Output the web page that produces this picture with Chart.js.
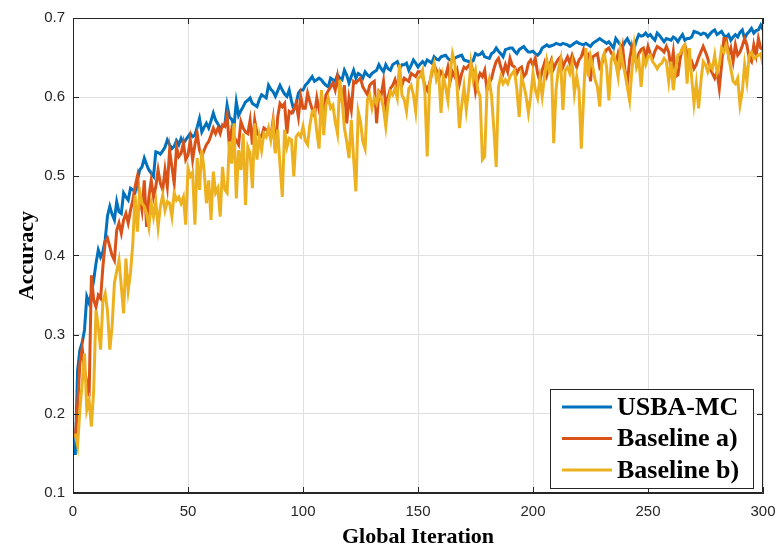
<!DOCTYPE html>
<html>
<head>
<meta charset="utf-8">
<script src="https://cdn.jsdelivr.net/npm/chart.js@4.4.0/dist/chart.umd.min.js"></script>
<style>
  html, body { margin: 0; padding: 0; background: #ffffff; }
  #c { display: block; }
</style>
</head>
<body>
<canvas id="c" width="776" height="547"></canvas>
<script>
// ---- data ----
const seriesNames = ["USBA-MC", "Baseline a)", "Baseline b)"];
const xTickValues = [0, 50, 100, 150, 200, 250, 300];
const yTickValues = [0.1, 0.2, 0.3, 0.4, 0.5, 0.6, 0.7];
const iterations = Array.from({ length: 300 }, (_, i) => i + 1);

const usbaMC = [
  .148,.255,.281,.290,.306,.348,.340,.352,.369,.390,
  .407,.398,.405,.420,.450,.462,.452,.445,.468,.455,
  .453,.479,.474,.470,.485,.483,.480,.495,.508,.512,
  .523,.515,.508,.504,.500,.531,.530,.528,.532,.537,
  .546,.540,.535,.538,.545,.540,.548,.542,.546,.550,
  .554,.550,.552,.562,.573,.556,.562,.567,.561,.570,
  .580,.571,.566,.561,.563,.565,.590,.575,.572,.563,
  .594,.577,.583,.588,.594,.596,.599,.592,.590,.588,
  .597,.603,.601,.599,.615,.610,.607,.601,.608,.615,
  .609,.604,.601,.609,.595,.584,.592,.605,.609,.609,
  .615,.618,.622,.626,.620,.622,.624,.622,.618,.615,
  .613,.624,.622,.620,.628,.624,.622,.634,.628,.618,
  .626,.634,.624,.630,.628,.624,.632,.628,.626,.630,
  .632,.634,.641,.636,.632,.641,.636,.634,.641,.643,
  .645,.636,.641,.641,.643,.634,.640,.647,.643,.638,
  .642,.645,.641,.647,.645,.643,.651,.648,.647,.651,
  .652,.653,.649,.647,.645,.649,.651,.652,.653,.647,
  .646,.645,.645,.646,.655,.653,.654,.657,.651,.650,
  .649,.655,.657,.662,.658,.655,.651,.660,.661,.662,
  .662,.658,.655,.660,.662,.664,.660,.657,.657,.658,
  .655,.653,.656,.662,.664,.666,.664,.665,.666,.668,
  .667,.666,.668,.667,.666,.664,.666,.668,.670,.668,
  .667,.666,.668,.666,.664,.668,.670,.672,.674,.672,
  .670,.668,.670,.666,.662,.674,.670,.666,.664,.670,
  .674,.668,.664,.662,.672,.679,.677,.678,.681,.677,
  .679,.675,.672,.681,.678,.674,.670,.674,.673,.672,
  .676,.674,.670,.675,.679,.672,.674,.674,.676,.683,
  .682,.681,.679,.681,.680,.676,.680,.683,.685,.679,
  .681,.683,.678,.676,.679,.672,.676,.679,.676,.682,
  .685,.674,.680,.683,.687,.681,.684,.685,.691,.685
];

const baselineA = [
  .170,.210,.264,.283,.255,.240,.222,.375,.344,.335,
  .350,.346,.386,.417,.422,.411,.400,.394,.432,.441,
  .428,.445,.453,.441,.457,.470,.487,.500,.474,.457,
  .495,.436,.474,.495,.474,.487,.508,.491,.483,.508,
  .487,.533,.512,.491,.537,.525,.529,.542,.521,.527,
  .546,.521,.540,.554,.533,.525,.533,.540,.544,.552,
  .561,.554,.561,.554,.565,.563,.577,.537,.559,.550,
  .545,.540,.569,.561,.556,.554,.571,.540,.571,.554,
  .552,.550,.561,.559,.555,.550,.571,.531,.575,.592,
  .588,.592,.554,.582,.580,.585,.592,.575,.601,.586,
  .586,.605,.594,.585,.577,.599,.584,.592,.582,.603,
  .608,.613,.618,.609,.626,.607,.594,.615,.567,.599,
  .584,.620,.618,.621,.624,.613,.608,.603,.615,.618,
  .620,.567,.607,.603,.620,.588,.600,.611,.615,.622,
  .611,.632,.615,.624,.622,.620,.630,.628,.626,.632,
  .632,.626,.615,.609,.617,.630,.641,.634,.624,.632,
  .628,.626,.638,.620,.632,.626,.634,.617,.630,.638,
  .636,.640,.643,.630,.607,.622,.630,.626,.634,.609,
  .618,.624,.636,.645,.649,.638,.630,.641,.632,.649,
  .640,.638,.630,.636,.638,.626,.630,.643,.647,.640,
  .649,.630,.620,.634,.643,.628,.638,.647,.636,.643,
  .648,.651,.638,.645,.651,.643,.653,.645,.638,.647,
  .651,.660,.649,.653,.620,.651,.653,.655,.638,.643,
  .655,.660,.662,.656,.651,.643,.655,.643,.662,.634,
  .617,.647,.664,.651,.643,.655,.660,.662,.651,.664,
  .655,.649,.658,.664,.662,.660,.657,.664,.657,.636,
  .657,.626,.628,.649,.662,.666,.655,.641,.645,.636,
  .641,.650,.657,.664,.657,.649,.636,.630,.624,.632,
  .611,.641,.674,.674,.653,.662,.645,.666,.653,.657,
  .665,.674,.666,.649,.645,.666,.653,.674,.662,.660
];

const baselineB = [
  .175,.160,.205,.239,.276,.205,.217,.184,.230,.331,
  .310,.281,.342,.352,.330,.281,.310,.365,.380,.394,
  .361,.327,.396,.356,.378,.415,.476,.430,.481,.466,
  .462,.453,.436,.466,.449,.468,.436,.462,.476,.457,
  .468,.466,.449,.479,.470,.474,.466,.474,.439,.510,
  .500,.505,.439,.523,.483,.533,.508,.466,.495,.445,
  .506,.479,.485,.449,.512,.483,.479,.544,.516,.567,
  .472,.533,.508,.554,.464,.537,.529,.485,.567,.521,
  .550,.533,.554,.550,.561,.546,.567,.529,.559,.514,
  .474,.559,.537,.548,.546,.500,.550,.554,.550,.563,
  .545,.540,.565,.582,.584,.556,.535,.609,.552,.590,
  .599,.586,.590,.569,.554,.622,.597,.561,.544,.523,
  .571,.523,.481,.582,.569,.544,.535,.597,.603,.586,
  .599,.592,.605,.599,.586,.563,.592,.607,.603,.611,
  .599,.641,.603,.597,.582,.611,.615,.603,.582,.624,
  .626,.634,.605,.525,.613,.634,.643,.622,.630,.580,
  .626,.613,.596,.630,.655,.643,.613,.561,.590,.613,
  .584,.609,.643,.622,.634,.609,.601,.521,.525,.609,
  .622,.601,.559,.512,.613,.626,.617,.622,.617,.626,
  .630,.634,.609,.575,.626,.615,.601,.580,.601,.630,
  .609,.599,.624,.601,.626,.647,.634,.643,.542,.609,
  .634,.647,.584,.634,.638,.630,.643,.605,.626,.609,
  .535,.600,.662,.626,.651,.638,.622,.613,.588,.647,
  .655,.638,.596,.647,.655,.643,.626,.660,.643,.630,
  .613,.596,.634,.664,.638,.647,.613,.651,.641,.651,
  .653,.645,.641,.636,.641,.643,.649,.645,.620,.645,
  .609,.636,.653,.655,.662,.666,.617,.662,.624,.592,
  .617,.586,.620,.645,.641,.632,.641,.636,.653,.632,
  .641,.662,.657,.666,.653,.636,.620,.617,.624,.590,
  .607,.641,.620,.653,.657,.649,.651,.653,.655,.641
];

const seriesColors = ["#0072BD", "#D95319", "#EDB120"];
const AXIS = "#262626";
const GRID = "#dfdfdf";

function toPoints(values) {
  return values.map((v, i) => ({ x: iterations[i], y: v }));
}

// box + inward ticks (MATLAB style)
const boxPlugin = {
  id: "boxTicks",
  afterDatasetsDraw(chart) {
    const { ctx, chartArea: a, scales } = chart;
    const L = 6;
    ctx.save();
    ctx.strokeStyle = AXIS;
    ctx.lineWidth = 1;
    ctx.beginPath();
    ctx.rect(a.left + 0.5, a.top + 0.5, a.right - a.left - 1, a.bottom - a.top - 1);
    xTickValues.forEach(v => {
      const px = Math.round(scales.x.getPixelForValue(v)) + 0.5;
      ctx.moveTo(px, a.bottom); ctx.lineTo(px, a.bottom - L);
      ctx.moveTo(px, a.top); ctx.lineTo(px, a.top + L);
    });
    yTickValues.forEach(v => {
      const py = Math.round(scales.y.getPixelForValue(v)) + 0.5;
      ctx.moveTo(a.left, py); ctx.lineTo(a.left + L, py);
      ctx.moveTo(a.right, py); ctx.lineTo(a.right - L, py);
    });
    ctx.stroke();
    ctx.restore();
  }
};

// legend box inside the plot, lower right
const legendPlugin = {
  id: "innerLegend",
  afterDraw(chart) {
    const { ctx, chartArea: a } = chart;
    const w = 203, h = 99;
    const x0 = a.right - 10 - w, y0 = a.bottom - 5 - h;
    ctx.save();
    ctx.fillStyle = "#ffffff";
    ctx.fillRect(x0, y0, w, h);
    ctx.strokeStyle = AXIS;
    ctx.lineWidth = 1;
    ctx.strokeRect(Math.round(x0) + 0.5, Math.round(y0) + 0.5, w, h);
    ctx.font = "bold 26px 'Liberation Serif', 'Times New Roman', serif";
    ctx.textBaseline = "middle";
    ctx.textAlign = "left";
    chart.data.datasets.forEach((ds, i) => {
      const yy = y0 + 18 + i * 31.5;
      ctx.strokeStyle = ds.borderColor;
      ctx.lineWidth = 3;
      ctx.beginPath();
      ctx.moveTo(x0 + 12, yy);
      ctx.lineTo(x0 + 62, yy);
      ctx.stroke();
      ctx.fillStyle = "#000000";
      ctx.fillText(ds.label, x0 + 67, yy + 1);
    });
    ctx.restore();
  }
};

const datasets = [usbaMC, baselineA, baselineB].map((vals, i) => ({
  label: seriesNames[i],
  data: toPoints(vals),
  borderColor: seriesColors[i],
  backgroundColor: seriesColors[i],
  borderWidth: 3,
  pointRadius: 0,
  tension: 0,
  fill: false,
  order: 3 - i
}));

new Chart(document.getElementById("c"), {
  type: "line",
  data: { datasets },
  plugins: [boxPlugin, legendPlugin],
  options: {
    responsive: false,
    devicePixelRatio: 1,
    animation: false,
    layout: { padding: { top: 18, right: 13, left: 0, bottom: 0 } },
    plugins: { legend: { display: false }, tooltip: { enabled: false } },
    scales: {
      x: {
        type: "linear",
        min: 0, max: 300,
        afterBuildTicks(scale) { scale.ticks = xTickValues.map(v => ({ value: v })); },
        afterFit(scale) { scale.height = 54; scale.paddingLeft = 0; scale.paddingRight = 0; },
        grid: { color: GRID, lineWidth: 1, drawTicks: false },
        border: { display: true, color: AXIS, width: 1 },
        ticks: {
          color: AXIS, padding: 10, maxRotation: 0, autoSkip: false,
          font: { family: "'Liberation Sans', Arial, sans-serif", size: 15 },
          callback: v => String(v)
        },
        title: {
          display: true, text: "Global Iteration", color: "#000000",
          font: { family: "'Liberation Serif', 'Times New Roman', serif", size: 22, weight: "bold", lineHeight: 0.9 },
          padding: { top: 0, bottom: 0 }
        }
      },
      y: {
        type: "linear",
        min: 0.1, max: 0.7,
        afterBuildTicks(scale) { scale.ticks = yTickValues.map(v => ({ value: v })); },
        afterFit(scale) { scale.width = 73; scale.paddingTop = 0; scale.paddingBottom = 0; },
        grid: { color: GRID, lineWidth: 1, drawTicks: false },
        border: { display: true, color: AXIS, width: 1 },
        ticks: {
          color: AXIS, padding: 8, autoSkip: false,
          font: { family: "'Liberation Sans', Arial, sans-serif", size: 15 },
          callback: v => Number(v).toFixed(1)
        },
        title: {
          display: true, text: "Accuracy", color: "#000000",
          font: { family: "'Liberation Serif', 'Times New Roman', serif", size: 22, weight: "bold", lineHeight: 1.2 },
          padding: { top: 14, bottom: 0 }
        }
      }
    }
  }
});
</script>
</body>
</html>
